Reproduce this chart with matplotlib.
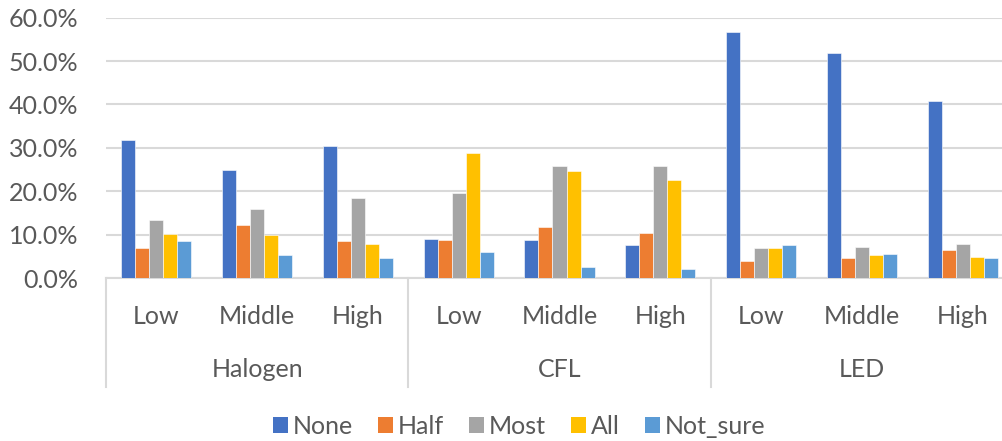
import numpy as np
import matplotlib
matplotlib.use("Agg")
import matplotlib.pyplot as plt
from matplotlib.transforms import blended_transform_factory
from matplotlib.patches import Patch

plt.rcParams['font.family'] = ['Lato', 'DejaVu Sans']

# Data
groups = ['Halogen', 'CFL', 'LED']
levels = ['Low', 'Middle', 'High']
series = ['None', 'Half', 'Most', 'All', 'Not_sure']
colors = ['#4472C4', '#ED7D31', '#A5A5A5', '#FFC000', '#5B9BD5']

none_vals = [31.7, 24.9, 30.5, 9.1, 8.8, 7.5, 56.6, 51.8, 40.8]
half_vals = [6.9, 12.3, 8.5, 8.8, 11.7, 10.4, 3.9, 4.6, 6.5]
most_vals = [13.3, 15.9, 18.5, 19.5, 25.9, 25.9, 6.9, 7.2, 7.8]
all_vals = [10.1, 9.8, 7.8, 28.8, 24.6, 22.7, 6.9, 5.2, 4.9]
notsure_vals = [8.5, 5.2, 4.6, 5.9, 2.6, 2.0, 7.5, 5.5, 4.6]

values = [none_vals, half_vals, most_vals, all_vals, notsure_vals]

text_color = '#595959'
grid_color = '#D9D9D9'
fs = 18

fig = plt.figure(figsize=(10.02, 4.41), dpi=100)
ax = fig.add_axes([106 / 1002, (441 - 278) / 441, 907 / 1002, (278 - 17.7) / 441])

x = np.arange(len(none_vals))
w = 0.139
for j, (name, vals) in enumerate(zip(series, values)):
    ax.bar(x + (j - 2) * w, np.array(vals) / 100, width=w, color=colors[j],
           edgecolor='white', linewidth=0.4, label=name, zorder=3)

ax.set_xlim(-0.5, len(x) - 0.5)
ax.set_ylim(0, 0.6)
ax.set_yticks(np.arange(0, 0.61, 0.1))
ax.set_yticklabels(['%.1f%%' % (v * 100) for v in np.arange(0, 0.61, 0.1)])
ax.tick_params(axis='y', length=0, pad=20, labelsize=fs, labelcolor=text_color)
ax.set_xticks([])
ax.grid(axis='y', color=grid_color, linewidth=1.5, zorder=0)
for s in ['top', 'right', 'left']:
    ax.spines[s].set_visible(False)
ax.spines['bottom'].set_color(grid_color)
ax.spines['bottom'].set_linewidth(1.5)

# Two-level category axis
trans = blended_transform_factory(ax.transData, ax.transAxes)
for i in x:
    ax.text(i, -0.149, levels[i % 3], transform=trans, ha='center', va='center',
            fontsize=fs, color=text_color)
for g, name in enumerate(groups):
    ax.text(3 * g + 1, -0.353, name, transform=trans, ha='center', va='center',
            fontsize=fs, color=text_color)
for b in [-0.5, 2.5, 5.5]:
    ax.plot([b, b], [0, -0.419], transform=trans, color=grid_color,
            linewidth=1.5, clip_on=False)

handles = [Patch(facecolor=c, label=s) for c, s in zip(colors, series)]
fig.legend(handles=handles, loc='center', bbox_to_anchor=(519 / 1002, 0.034),
           ncol=5, frameon=False, fontsize=fs, labelcolor=text_color,
           handlelength=0.6, handleheight=0.6, handletextpad=0.2,
           columnspacing=1.0)

fig.savefig('out.png', dpi=100)
